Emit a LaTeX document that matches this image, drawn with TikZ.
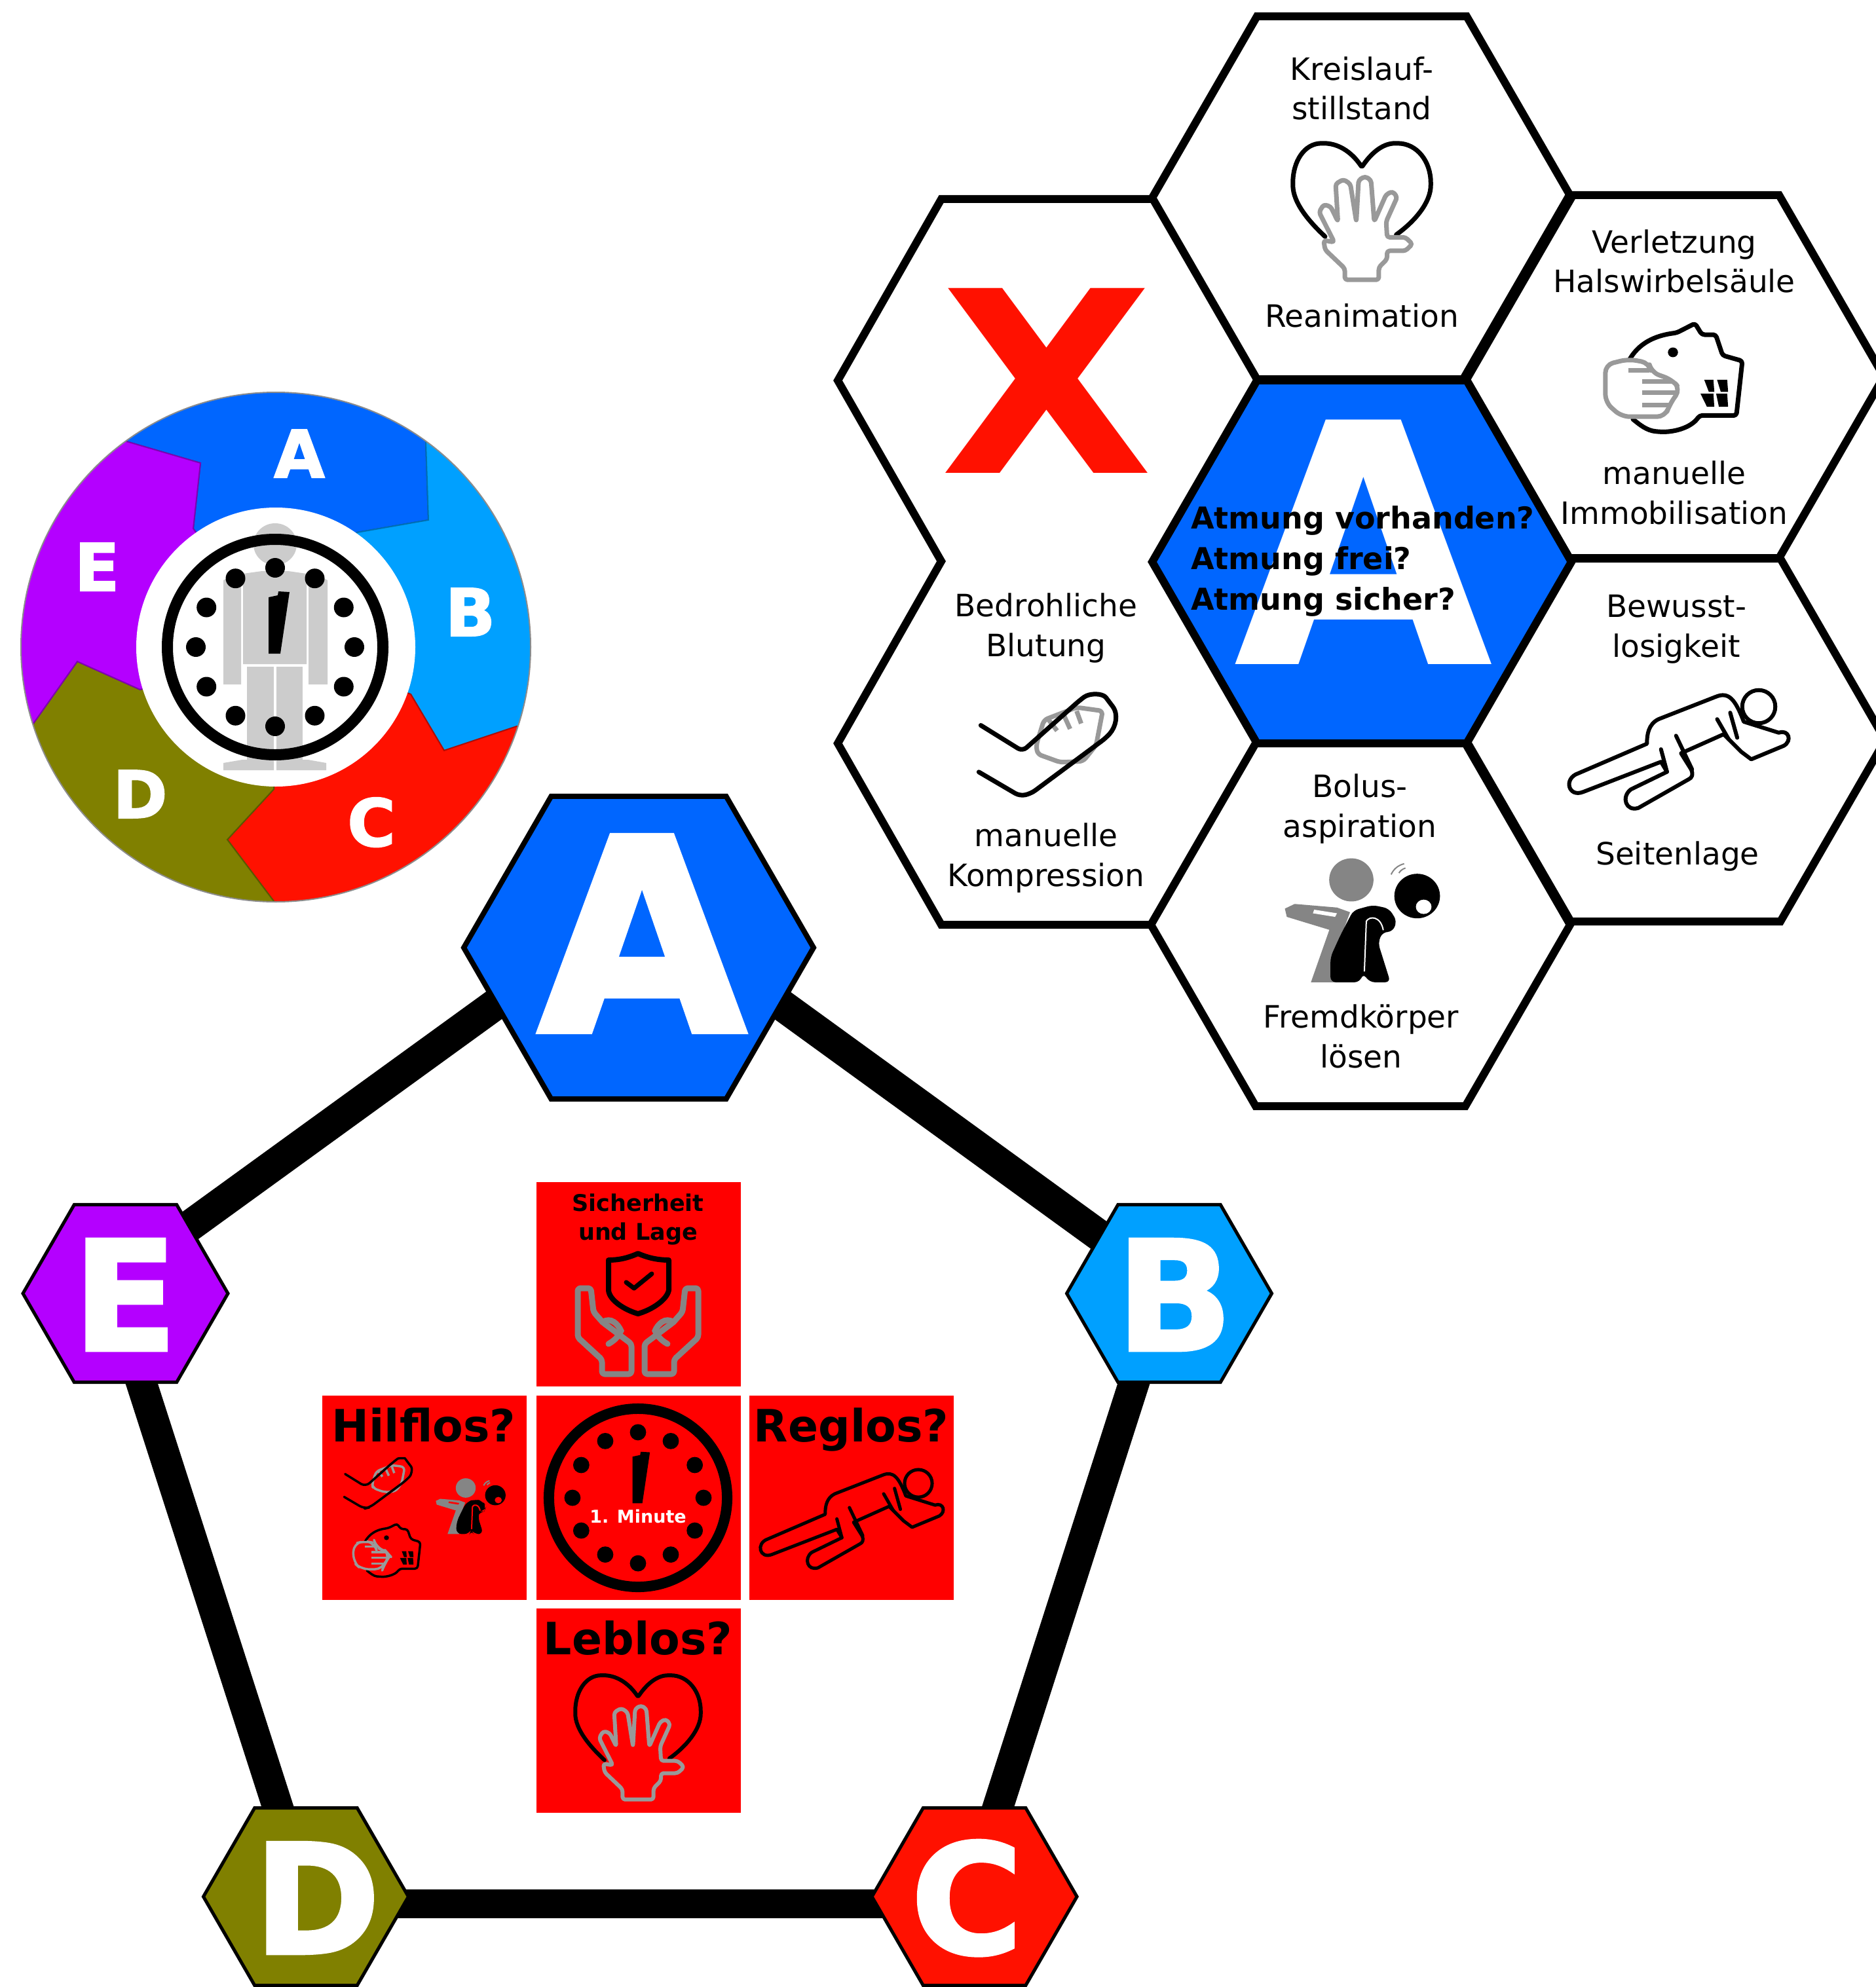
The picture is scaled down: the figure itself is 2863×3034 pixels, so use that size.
\documentclass[tikz,border=0pt]{standalone}
\usepackage{fontspec}
\usetikzlibrary{shapes.geometric,backgrounds}
\setmainfont{DejaVu Sans}
\newfontfamily\heavy[BoldFeatures={FakeBold=2}]{DejaVu Sans}
\newfontfamily\widex[BoldFeatures={FakeStretch=1.09}]{DejaVu Sans}
\definecolor{cA}{HTML}{0066FF}
\definecolor{cB}{HTML}{00A0FF}
\definecolor{cC}{HTML}{FF1100}
\definecolor{cD}{HTML}{808000}
\definecolor{cE}{HTML}{B400FF}
\definecolor{cS}{HTML}{FF0000}
\definecolor{cG}{HTML}{CCCCCC}
\definecolor{cH}{HTML}{999999}
\definecolor{cI}{HTML}{858585}
\newcommand\pxfont[2]{\pgfmathsetmacro\ptsz{#1*0.2845}\pgfmathsetmacro\ptln{#2*0.2845}\fontsize{\ptsz pt}{\ptln pt}\selectfont}
\tikzset{
 lw/.style={line width=#1*0.01cm},
 hexn/.style={regular polygon,regular polygon sides=6,draw=black,inner sep=0pt,outer sep=0pt,minimum size=#1*0.01cm},
 lab/.style={anchor=base,inner sep=0pt,outer sep=0pt,align=center,font=\pxfont{47}{60}},
 blab/.style={anchor=base,inner sep=0pt,outer sep=0pt,align=center,font=\bfseries\pxfont{#1}{#1}},
 wlet/.style={anchor=base,inner sep=0pt,outer sep=0pt,text=white,font=\heavy\bfseries\pxfont{#1}{#1}},
 redsq/.style={fill=cS,draw=none,inner sep=0pt,outer sep=0pt,minimum size=312*0.01cm},
 wseg/.style={fill=#1,draw=#1!70!black,lw=2},
 rnd/.style={rounded corners=#1*0.01cm,line join=round,line cap=round},
}
\newcommand\clockface[4]{%
 \begin{scope}[shift={(#1,#2)},scale=#3]
  \draw[lw=#4] (0,0) circle[radius=164.5];
  \foreach \a in {0,30,...,330} \fill (\a:121) circle[radius=15];
  \fill (-10,-76) -- (4,-79) -- (5,-85) -- (22,-84) -- (8,10) -- (-10,10) -- cycle;
 \end{scope}}
\newcommand\iconheart[4]{%
 \begin{scope}[shift={(#1,#2)},scale=#3,xscale=.7015,yscale=.574,shift={(-455,-445)}]
  \draw[lw=#4,rnd=2] (375,630) .. controls (340,590) and (305,540) .. (305,490) .. controls (305,430) and (330,382) .. (370,382) .. controls (400,382) and (430,400) .. (455,445) .. controls (480,400) and (505,382) .. (530,382) .. controls (575,382) and (605,430) .. (605,490) .. controls (605,540) and (570,590) .. (530,625);
  \draw[cH,lw=#4,rnd=4] (418,745) -- (492,745) -- (492,712) -- (510,690) -- (510,668) -- (550,668) -- (565,650) -- (550,632) -- (510,632) -- (508,590) -- (532,525) -- (522,510) -- (508,518) -- (482,590) -- (475,480) -- (462,470) -- (448,480) -- (443,590) -- (430,490) -- (415,478) -- (398,490) -- (403,590) -- (387,550) -- (372,545) -- (362,565) -- (395,645) -- (372,640) -- (375,665) -- (418,715) -- cycle;
 \end{scope}}
\newcommand\iconhead[5]{%
 \begin{scope}[shift={(#1,#2)},scale=#3,xscale=.7015,yscale=.574,shift={(-1132,-937)}]
  \draw[lw=#4,rnd=4] (1030,975) .. controls (1045,930) and (1075,895) .. (1140,885) -- (1180,860) -- (1195,890) -- (1225,890) -- (1240,945) -- (1283,960) -- (1270,1105) -- (1190,1105) .. controls (1170,1140) and (1130,1150) .. (1100,1148) .. controls (1075,1145) and (1060,1130) .. (1045,1115);
  \fill (1132,937) circle[x radius=11,y radius=13];
  \fill (1200,1010) -- (1220,1010) -- (1222,1042) -- (1210,1042) -- cycle;
  \fill (1228,1010) -- (1250,1010) -- (1252,1042) -- (1236,1042) -- cycle;
  \fill (1192,1047) -- (1220,1047) -- (1222,1082) -- (1206,1082) -- cycle;
  \fill (1226,1047) -- (1250,1047) -- (1252,1082) -- (1232,1082) -- cycle;
  \draw[cH,lw=#4,fill=#5,rnd=12] (985,970) -- (1035,955) -- (1080,965) -- (1085,990) -- (1130,1010) -- (1148,1035) -- (1125,1075) -- (1115,1108) -- (1020,1108) -- (985,1070) -- cycle;
  \draw[cH,lw=#4] (1035,985) -- (1080,985) (1065,1015) -- (1130,1015) (1065,1045) -- (1145,1045) (1065,1078) -- (1125,1078);
 \end{scope}}
\newcommand\iconlying[5]{%
 \begin{scope}[shift={(#1,#2)},scale=#3,scale=.638,shift={(-1445,-760)}]
  \draw[lw=#4,line join=round,fill=#5] (1085,893) -- (1222,834) .. controls (1222,815) and (1225,795) .. (1245,785) -- (1360,740) .. controls (1385,730) and (1398,745) .. (1415,790) -- (1485,812) .. controls (1505,805) and (1512,828) .. (1495,838) -- (1430,865) -- (1410,850) -- (1385,825) -- (1375,815) -- (1290,853) -- (1310,885) .. controls (1315,895) and (1312,902) .. (1305,905) -- (1205,962) .. controls (1180,970) and (1170,940) .. (1190,925) -- (1262,890) -- (1250,870) -- (1095,930) .. controls (1065,942) and (1055,903) .. cycle;
  \draw[lw=#4,line cap=round] (1250,845) -- (1262,890) (1280,818) -- (1312,885) (1362,785) -- (1385,825) (1388,772) -- (1402,822);
  \draw[lw=#4,fill=#5] (1445,760) circle[radius=33];
 \end{scope}}
\newcommand\iconbolus[4]{%
 \begin{scope}[shift={(#1,#2)},scale=#3,xscale=.995,yscale=.5485,shift={(-767,-845)}]
  \fill[cI] (767,845) circle[x radius=34,y radius=60];
  \fill[cI] (665,925) -- (680,912) -- (745,922) -- (765,935) -- (755,985) -- (735,985) -- (668,948) -- cycle;
  \fill[cI] (735,975) -- (705,1130) -- (745,1130) -- (762,985) -- cycle;
  \fill[#4] (710,928) -- (745,938) -- (742,948) -- (708,938) -- cycle;
  \fill[rounded corners=0.08cm] (770,930) -- (800,915) -- (825,925) -- (837,960) -- (830,990) -- (815,990) -- (808,1020) -- (827,1130) -- (795,1130) -- (785,1105) -- (780,1130) -- (735,1130) -- (735,1060) -- (750,1000) -- cycle;
  \draw[#4,lw=2] (787,1100) -- (790,960) .. controls (795,945) and (812,945) .. (816,985);
  \fill (868,890) circle[x radius=35,y radius=62];
  \fill[#4] (878,920) circle[x radius=12,y radius=20];
  \draw[cI,lw=2] (828,830) .. controls (832,815) and (838,805) .. (848,800) (840,826) .. controls (842,820) and (845,815) .. (850,812);
 \end{scope}}
\newcommand\iconarm[4]{%
 \begin{scope}[shift={(#1,#2)},scale=#3,xscale=.995,yscale=.5485,shift={(-262,-487)}]
  \draw[cH,lw=#4,rnd=6] (283,470) -- (295,400) -- (345,365) -- (385,375) -- (375,470) -- (355,515) -- (320,518) -- (285,495) -- cycle;
  \draw[cH,lw=#4] (300,395) -- (315,430) (325,385) -- (335,425) (345,375) -- (352,410);
  \draw[lw=#4,rnd=8] (198,415) -- (262,487) -- (350,345) .. controls (365,325) and (385,325) .. (395,350) .. controls (410,385) and (405,420) .. (390,450) -- (275,605) -- (258,612) -- (195,545);
 \end{scope}}
\begin{document}
\begin{tikzpicture}[x=0.01cm,y=-0.01cm]
\useasboundingbox (0,0) rectangle (2863,3034);

% ---- pentagon
\node[hexn=534,lw=8,fill=cA] (hA) at (975,1447) {};
\node[hexn=313,lw=5,fill=cB] (hB) at (1785,1975) {};
\node[hexn=313,lw=5,fill=cC] (hC) at (1487.6,2896) {};
\node[hexn=313,lw=5,fill=cD] (hD) at (467,2896) {};
\node[hexn=313,lw=5,fill=cE] (hE) at (191.5,1975) {};
\begin{pgfonlayer}{background}
\draw[lw=48] ([shift={(0,-71)}]hA.center) -- ([shift={(0,-11)}]hB.center);
\draw[lw=47] ([shift={(-10,0)}]hB.center) -- ([shift={(-8,0)}]hC.center);
\draw[lw=44] ([shift={(0,11)}]hC.center) -- ([shift={(0,11)}]hD.center);
\draw[lw=47] ([shift={(1,0)}]hD.center) -- ([shift={(-19.5,0)}]hE.center);
\draw[lw=48] ([shift={(0,-32)}]hE.center) -- ([shift={(0,-72)}]hA.center);
\end{pgfonlayer}
\node[wlet=410] (lA) at (980,1575) {A};
\node[wlet=233] (lB) at (1793,2062) {B};
\node[wlet=233] (lC) at (1476,2983) {C};
\node[wlet=233] (lD) at (484,2983) {D};
\node[wlet=233] (lE) at (191,2062) {E};

% ---- wheel
\begin{scope}
 \clip (421,988) circle[radius=389];
 \draw[wseg=cA] (193,674) -- (306,707) -- (295,807) -- (421,988) -- (545,813) -- (654,794) -- (650,675) -- (879,362) -- (-35,360) -- cycle;
 \draw[wseg=cB] (650,675) -- (654,794) -- (545,813) -- (421,988) -- (627,1060) -- (678,1146) -- (789,1109) -- (1157,1230) -- (1300,800) -- (879,362) -- cycle;
 \draw[wseg=cC] (789,1109) -- (678,1146) -- (627,1060) -- (421,988) -- (418,1205) -- (347,1282) -- (418,1376) -- (415,1764) -- (1000,1700) -- (1157,1230) -- cycle;
 \draw[wseg=cD] (418,1376) -- (347,1282) -- (418,1205) -- (421,988) -- (214,1053) -- (118,1010) -- (50,1106) -- (-321,1224) -- (-100,1700) -- (415,1764) -- cycle;
 \draw[wseg=cE] (50,1106) -- (118,1010) -- (214,1053) -- (421,988) -- (295,807) -- (306,707) -- (193,674) -- (-35,360) -- (-300,700) -- (-321,1224) -- cycle;
\end{scope}
\draw[black!45,lw=2] (421,988) circle[radius=389];
\fill[white] (421,988) circle[radius=213];
\node[wlet=100] (wA) at (457,729) {A};
\node[wlet=100] (wB) at (718,971) {B};
\node[wlet=100] (wC) at (567,1292) {C};
\node[wlet=100] (wD) at (214,1249) {D};
\node[wlet=100] (wE) at (148,902) {E};
% man in the clock
\begin{scope}[cG]
 \fill (420,831) circle[x radius=33,y radius=32];
 \fill (371,1014) -- (371,876) -- (400,872) -- (440,872) -- (468,876) -- (468,1014) -- cycle;
 \fill (341,886) -- (350,881) -- (368,881) -- (368,1045) -- (341,1045) -- cycle;
 \fill (471,881) -- (491,881) -- (500,886) -- (500,1045) -- (471,1045) -- cycle;
 \fill (377,1018) rectangle (418,1160);
 \fill (422,1018) rectangle (462,1160);
 \fill (341,1176) -- (341,1165) -- (370,1160) -- (418,1160) -- (418,1176) -- cycle;
 \fill (422,1176) -- (422,1160) -- (470,1160) -- (498,1165) -- (498,1176) -- cycle;
\end{scope}
\clockface{420}{988}{1}{17}

% ---- red cross
\node[redsq] (sT) at (974.5,1961) {};
\node[redsq] (sC) at (974.5,2287) {};
\node[redsq] (sL) at (648,2287) {};
\node[redsq] (sR) at (1299.5,2287) {};
\node[redsq] (sB) at (974.5,2612) {};
\node[blab=35] (tSich) at (974,1849) {Sicherheit};
\node[blab=35] (tLage) at (974,1893.5) {und Lage};
\node[blab=68] (tHilf) at (647,2201) {Hilflos?};
\node[blab=68] (tReg) at (1299.5,2201) {Reglos?};
\node[blab=68] (tLeb) at (974,2526) {Leblos?};
\clockface{974}{2287}{0.827}{16}
\node[blab=27,text=white] (tMin) at (974,2325) {1. Minute};
% shield and hands
\draw[lw=8,line join=round] (974,1914) .. controls (990,1921) and (1005,1924) .. (1021,1924) -- (1021,1970) .. controls (1018,1985) and (995,2000) .. (974,2006) .. controls (953,2000) and (930,1985) .. (929,1970) -- (929,1924) .. controls (945,1924) and (958,1921) .. (974,1914) -- cycle;
\draw[lw=7,line cap=round,line join=round] (956,1958) -- (968,1967) -- (995,1945);
\foreach \sx in {1,-1}{
 \begin{scope}[shift={(974,0)},xscale=\sx]
  \draw[cI,lw=9,rnd=4] (-10,2098) -- (-10,2052) -- (-54,2019) -- (-68,2003) -- (-72,1967) -- (-92,1967) -- (-92,2042) -- (-55,2076) -- (-55,2098) -- cycle;
  \draw[cI,lw=9,line cap=round] (-54,2019) .. controls (-42,2010) and (-30,2022) .. (-26,2032) .. controls (-30,2042) and (-38,2048) .. (-45,2052);
 \end{scope}}
\iconarm{558}{2270}{0.49}{3.5}
\iconbolus{711}{2272}{0.45}{cS}
\iconhead{590}{2348}{0.49}{3.5}{cS}
\iconlying{1402}{2265}{1}{5}{cS}
\iconheart{974}{2591}{0.91}{6}

% ---- hexagon cluster
\draw[lw=12,line join=miter] (1760,304) -- (1437,304) -- (1279,581) -- (1437,857) -- (1279,1135) -- (1437,1412) -- (1760,1412);
\node[hexn=640,lw=12] (cT) at (2079,302) {};
\node[hexn=640,lw=12] (cR1) at (2556,575) {};
\node[hexn=640,lw=12] (cR2) at (2558,1130) {};
\node[hexn=640,lw=12] (cBo) at (2077,1412) {};
\node[hexn=640,lw=12,fill=cA] (cM) at (2079,858) {};
\node[blab=512,text=white] (cMA) at (2082,1014) {A};
\node[anchor=base,inner sep=0pt,outer sep=0pt,text=cC,font=\widex\bfseries\pxfont{387}{387}] (cX) at (1598,722) {X};

\node[lab] (t1) at (2079,182.5) {Kreislauf-\\stillstand};
\node[lab] (t2) at (2079,500) {Reanimation};
\node[lab] (t3) at (2556,447) {Verletzung\\Halswirbelsäule};
\node[lab] (t4) at (2556,800) {manuelle\\Immobilisation};
\node[lab] (t5) at (1597,1002) {Bedrohliche\\Blutung};
\node[lab] (t6) at (1597,1353) {manuelle\\Kompression};
\node[lab] (t7) at (2559,1003) {Bewusst-\\losigkeit};
\node[lab] (t8) at (2561,1320) {Seitenlage};
\node[lab] (t9) at (2076,1278) {Bolus-\\aspiration};
\node[lab] (t10) at (2078,1630) {Fremdkörper\\lösen};
\node[anchor=base west,inner sep=0pt,outer sep=0pt,align=left,font=\bfseries\pxfont{46}{61.5}] (tM) at (1818,931) {Atmung vorhanden?\\Atmung frei?\\Atmung sicher?};

\iconheart{2079}{255}{1}{7}
\iconhead{2554}{538}{1}{7}{white}
\iconarm{1561}{1147}{1}{7}
\iconbolus{2063}{1343.5}{1}{white}
\iconlying{2685}{1079}{1.2}{6}{white}
\end{tikzpicture}
\end{document}
